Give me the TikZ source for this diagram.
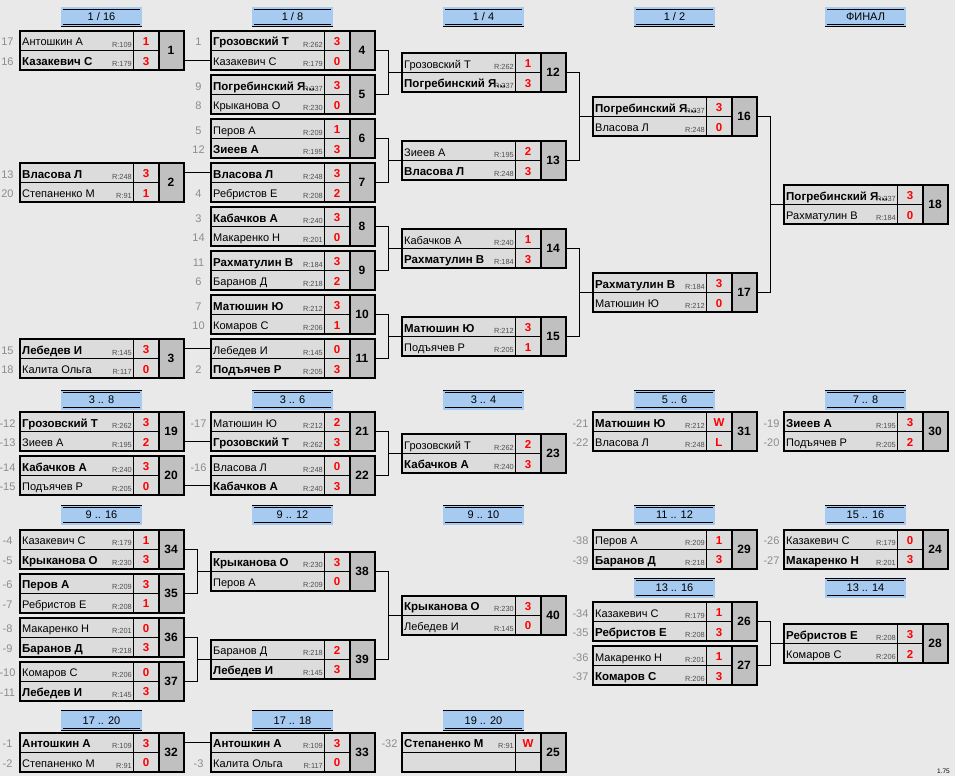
\documentclass[tikz,border=0pt]{standalone}
\usepackage{fontspec}
\setmainfont{Liberation Sans}
\usepackage{tikz}
\definecolor{bggray}{HTML}{E9E9E9}
\definecolor{cellgray}{HTML}{DCDCDC}
\definecolor{numgray}{HTML}{C0C0C0}
\definecolor{stageblue}{HTML}{A6CAF0}
\definecolor{seedgray}{HTML}{8C8C8C}
\definecolor{ratgray}{HTML}{505050}
\tikzstyle{namecell}=[draw,line width=0.8pt,fill=cellgray,minimum width=114pt,minimum height=19.5pt,inner sep=0pt,outer sep=0pt,anchor=north west]
\tikzstyle{scorecell}=[namecell,minimum width=25pt]
\tikzstyle{numcell}=[draw,line width=0.8pt,fill=numgray,minimum width=25pt,minimum height=39pt,inner sep=0pt,outer sep=0pt,anchor=north west,font=\fontsize{12}{14}\selectfont\bfseries]
\tikzstyle{plname}=[inner sep=0pt,anchor=base west,font=\fontsize{11}{13}\selectfont]
\tikzstyle{plwin}=[plname,font=\fontsize{11.5}{13}\selectfont\bfseries]
\tikzstyle{rating}=[inner sep=0pt,anchor=base east,text=ratgray,font=\fontsize{7.4}{9}\selectfont]
\tikzstyle{score}=[inner sep=0pt,anchor=base,text=red,font=\fontsize{11.5}{13}\selectfont\bfseries]
\tikzstyle{seedno}=[inner sep=0pt,anchor=base,text=seedgray,font=\fontsize{11}{13}\selectfont]
\tikzstyle{boxframe}=[line width=2pt]
\tikzstyle{wire}=[line width=0.9pt]
\tikzstyle{stage}=[draw,line width=0.6pt,double=stageblue,double distance=1.5pt,fill=stageblue,minimum width=79pt,minimum height=17.5pt,inner sep=0pt,font=\fontsize{11}{13}\selectfont]
\newcommand{\pl}[7]{%
  \node[namecell] (#1) at (#2) {};
  \node[scorecell] (#1s) at (#1.north east) {};
  \node[#7] (#1t) at ([xshift=2.5pt,yshift=4.5pt]#1.south west) {#4};
  \node[rating] (#1r) at ([xshift=-1.5pt,yshift=3.3pt]#1.south east) {#5};
  \node[score] (#1p) at ([yshift=4.8pt]#1s.south) {#6};
  \node[seedno] (#1n) at ([xshift=-12pt,yshift=4.5pt]#1.south west) {#3};
}
\newcommand{\game}[1]{%
  \node[numcell] (g#1) at (a#1s.north east) {#1};
  \draw[boxframe] (a#1.north west) rectangle (g#1.south east);
  \draw[boxframe] (g#1.north west) -- (g#1.south west);
}
\begin{document}
\begin{tikzpicture}[x=1pt,y=-1pt]
\useasboundingbox (0,0) rectangle (955,776);
\fill[bggray] (0,0) rectangle (955,776);

\node[stage] (h116) at (101.5,17) {1 / 16};
\node[stage] (h18) at (292.5,17) {1 / 8};
\node[stage] (h14) at (483.5,17) {1 / 4};
\node[stage] (h12) at (674.5,17) {1 / 2};
\node[stage] (hfin) at (865.5,17) {ФИНАЛ};
\node[stage] (h38) at (101.5,400) {3 .. 8};
\node[stage] (h36) at (292.5,400) {3 .. 6};
\node[stage] (h34) at (483.5,400) {3 .. 4};
\node[stage] (h56) at (674.5,400) {5 .. 6};
\node[stage] (h78) at (865.5,400) {7 .. 8};
\node[stage] (h916) at (101.5,515) {9 .. 16};
\node[stage] (h912) at (292.5,515) {9 .. 12};
\node[stage] (h910) at (483.5,515) {9 .. 10};
\node[stage] (h1112) at (674.5,515) {11 .. 12};
\node[stage] (h1516) at (865.5,515) {15 .. 16};
\node[stage] (h1316) at (674.5,588) {13 .. 16};
\node[stage] (h1314) at (865.5,588) {13 .. 14};
\node[stage] (h1720) at (101.5,720.5) {17 .. 20};
\node[stage] (h1718) at (292.5,720.5) {17 .. 18};
\node[stage] (h1920) at (483.5,720.5) {19 .. 20};

\pl{a1}{19.5,31}{17}{Антошкин А}{R:109}{1}{plname}
\pl{b1}{a1.south west}{16}{Казакевич С}{R:179}{3}{plwin}
\game{1}
\pl{a2}{19.5,163}{13}{Власова Л}{R:248}{3}{plwin}
\pl{b2}{a2.south west}{20}{Степаненко М}{R:91}{1}{plname}
\game{2}
\pl{a3}{19.5,339}{15}{Лебедев И}{R:145}{3}{plwin}
\pl{b3}{a3.south west}{18}{Калита Ольга}{R:117}{0}{plname}
\game{3}

\pl{a4}{210.5,31}{1}{Грозовский Т}{R:262}{3}{plwin}
\pl{b4}{a4.south west}{}{Казакевич С}{R:179}{0}{plname}
\game{4}
\pl{a5}{210.5,75}{9}{Погребинский Я...}{R:237}{3}{plwin}
\pl{b5}{a5.south west}{8}{Крыканова О}{R:230}{0}{plname}
\game{5}
\pl{a6}{210.5,119}{5}{Перов А}{R:209}{1}{plname}
\pl{b6}{a6.south west}{12}{Зиеев А}{R:195}{3}{plwin}
\game{6}
\pl{a7}{210.5,163}{}{Власова Л}{R:248}{3}{plwin}
\pl{b7}{a7.south west}{4}{Ребристов Е}{R:208}{2}{plname}
\game{7}
\pl{a8}{210.5,207}{3}{Кабачков А}{R:240}{3}{plwin}
\pl{b8}{a8.south west}{14}{Макаренко Н}{R:201}{0}{plname}
\game{8}
\pl{a9}{210.5,251}{11}{Рахматулин В}{R:184}{3}{plwin}
\pl{b9}{a9.south west}{6}{Баранов Д}{R:218}{2}{plname}
\game{9}
\pl{a10}{210.5,295}{7}{Матюшин Ю}{R:212}{3}{plwin}
\pl{b10}{a10.south west}{10}{Комаров С}{R:206}{1}{plname}
\game{10}
\pl{a11}{210.5,339}{}{Лебедев И}{R:145}{0}{plname}
\pl{b11}{a11.south west}{2}{Подъячев Р}{R:205}{3}{plwin}
\game{11}

\pl{a12}{401.5,53}{}{Грозовский Т}{R:262}{1}{plname}
\pl{b12}{a12.south west}{}{Погребинский Я...}{R:237}{3}{plwin}
\game{12}
\pl{a13}{401.5,141}{}{Зиеев А}{R:195}{2}{plname}
\pl{b13}{a13.south west}{}{Власова Л}{R:248}{3}{plwin}
\game{13}
\pl{a14}{401.5,229}{}{Кабачков А}{R:240}{1}{plname}
\pl{b14}{a14.south west}{}{Рахматулин В}{R:184}{3}{plwin}
\game{14}
\pl{a15}{401.5,317}{}{Матюшин Ю}{R:212}{3}{plwin}
\pl{b15}{a15.south west}{}{Подъячев Р}{R:205}{1}{plname}
\game{15}

\pl{a16}{592.5,97}{}{Погребинский Я...}{R:237}{3}{plwin}
\pl{b16}{a16.south west}{}{Власова Л}{R:248}{0}{plname}
\game{16}
\pl{a17}{592.5,273}{}{Рахматулин В}{R:184}{3}{plwin}
\pl{b17}{a17.south west}{}{Матюшин Ю}{R:212}{0}{plname}
\game{17}

\pl{a18}{783.5,185}{}{Погребинский Я...}{R:237}{3}{plwin}
\pl{b18}{a18.south west}{}{Рахматулин В}{R:184}{0}{plname}
\game{18}

\pl{a19}{19.5,412}{-12}{Грозовский Т}{R:262}{3}{plwin}
\pl{b19}{a19.south west}{-13}{Зиеев А}{R:195}{2}{plname}
\game{19}
\pl{a20}{19.5,456}{-14}{Кабачков А}{R:240}{3}{plwin}
\pl{b20}{a20.south west}{-15}{Подъячев Р}{R:205}{0}{plname}
\game{20}
\pl{a21}{210.5,412}{-17}{Матюшин Ю}{R:212}{2}{plname}
\pl{b21}{a21.south west}{}{Грозовский Т}{R:262}{3}{plwin}
\game{21}
\pl{a22}{210.5,456}{-16}{Власова Л}{R:248}{0}{plname}
\pl{b22}{a22.south west}{}{Кабачков А}{R:240}{3}{plwin}
\game{22}
\pl{a23}{401.5,434}{}{Грозовский Т}{R:262}{2}{plname}
\pl{b23}{a23.south west}{}{Кабачков А}{R:240}{3}{plwin}
\game{23}
\pl{a31}{592.5,412}{-21}{Матюшин Ю}{R:212}{W}{plwin}
\pl{b31}{a31.south west}{-22}{Власова Л}{R:248}{L}{plname}
\game{31}
\pl{a30}{783.5,412}{-19}{Зиеев А}{R:195}{3}{plwin}
\pl{b30}{a30.south west}{-20}{Подъячев Р}{R:205}{2}{plname}
\game{30}

\pl{a34}{19.5,529.5}{-4}{Казакевич С}{R:179}{1}{plname}
\pl{b34}{a34.south west}{-5}{Крыканова О}{R:230}{3}{plwin}
\game{34}
\pl{a35}{19.5,573.5}{-6}{Перов А}{R:209}{3}{plwin}
\pl{b35}{a35.south west}{-7}{Ребристов Е}{R:208}{1}{plname}
\game{35}
\pl{a36}{19.5,617.5}{-8}{Макаренко Н}{R:201}{0}{plname}
\pl{b36}{a36.south west}{-9}{Баранов Д}{R:218}{3}{plwin}
\game{36}
\pl{a37}{19.5,661.5}{-10}{Комаров С}{R:206}{0}{plname}
\pl{b37}{a37.south west}{-11}{Лебедев И}{R:145}{3}{plwin}
\game{37}
\pl{a38}{210.5,551.5}{}{Крыканова О}{R:230}{3}{plwin}
\pl{b38}{a38.south west}{}{Перов А}{R:209}{0}{plname}
\game{38}
\pl{a39}{210.5,639.5}{}{Баранов Д}{R:218}{2}{plname}
\pl{b39}{a39.south west}{}{Лебедев И}{R:145}{3}{plwin}
\game{39}
\pl{a40}{401.5,595.5}{}{Крыканова О}{R:230}{3}{plwin}
\pl{b40}{a40.south west}{}{Лебедев И}{R:145}{0}{plname}
\game{40}
\pl{a29}{592.5,529.5}{-38}{Перов А}{R:209}{1}{plname}
\pl{b29}{a29.south west}{-39}{Баранов Д}{R:218}{3}{plwin}
\game{29}
\pl{a24}{783.5,529.5}{-26}{Казакевич С}{R:179}{0}{plname}
\pl{b24}{a24.south west}{-27}{Макаренко Н}{R:201}{3}{plwin}
\game{24}
\pl{a26}{592.5,602}{-34}{Казакевич С}{R:179}{1}{plname}
\pl{b26}{a26.south west}{-35}{Ребристов Е}{R:208}{3}{plwin}
\game{26}
\pl{a27}{592.5,646}{-36}{Макаренко Н}{R:201}{1}{plname}
\pl{b27}{a27.south west}{-37}{Комаров С}{R:206}{3}{plwin}
\game{27}
\pl{a28}{783.5,624}{}{Ребристов Е}{R:208}{3}{plwin}
\pl{b28}{a28.south west}{}{Комаров С}{R:206}{2}{plname}
\game{28}

\pl{a32}{19.5,732.5}{-1}{Антошкин А}{R:109}{3}{plwin}
\pl{b32}{a32.south west}{-2}{Степаненко М}{R:91}{0}{plname}
\game{32}
\pl{a33}{210.5,732.5}{}{Антошкин А}{R:109}{3}{plwin}
\pl{b33}{a33.south west}{-3}{Калита Ольга}{R:117}{0}{plname}
\game{33}
\pl{a25}{401.5,732.5}{-32}{Степаненко М}{R:91}{W}{plwin}
\pl{b25}{a25.south west}{}{}{}{}{plname}
\game{25}

\draw[wire] (g1.east |- b1) -- (b4.west);
\draw[wire] (g2.east |- a2) -- (a7.west);
\draw[wire] (g3.east |- a3) -- (a11.west);
\draw[wire] (g19.east |- b19) -- (b21.west);
\draw[wire] (g20.east |- b20) -- (b22.west);
\draw[wire] (g32.east |- a32) -- (a33.west);
\foreach \p/\q/\w in {4/5/12,6/7/13,8/9/14,10/11/15,12/13/16,14/15/17,16/17/18,21/22/23,34/35/38,36/37/39,38/39/40,26/27/28}
  {\draw[wire] (g\p.east) -- ++(13.5,0) |- (a\w.south west);
   \draw[wire] (g\q.east) -- ++(13.5,0) |- (a\w.south west);}

\node[inner sep=0pt,anchor=base east,font=\fontsize{6.5}{8}\selectfont] (ver) at (950,773) {1.75};
\end{tikzpicture}
\end{document}
